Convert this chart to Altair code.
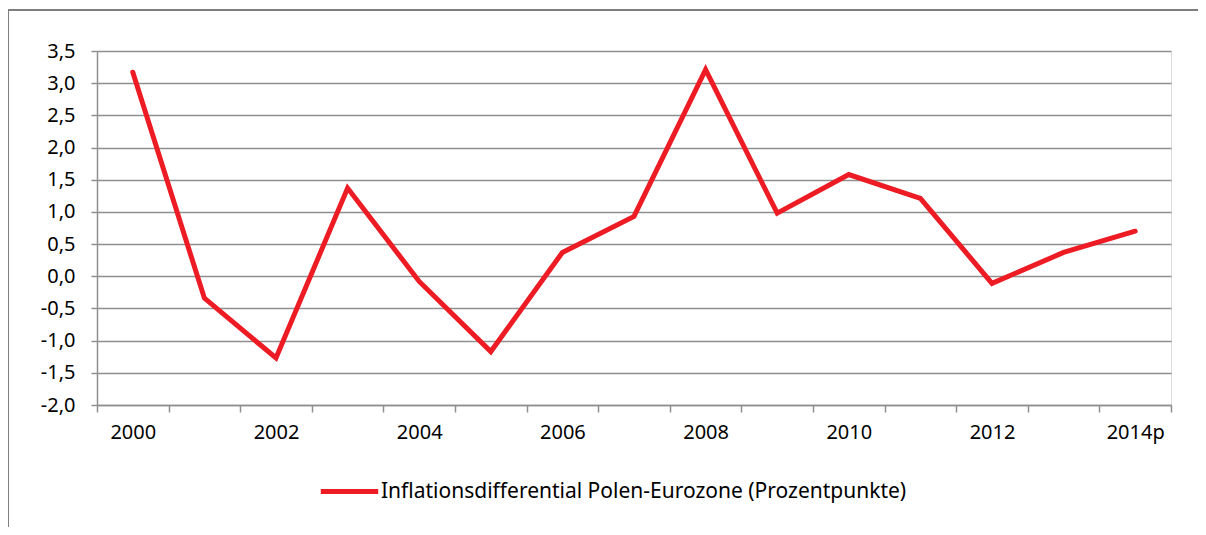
import altair as alt
import pandas as pd

years = ["2000", "2001", "2002", "2003", "2004", "2005", "2006", "2007",
         "2008", "2009", "2010", "2011", "2012", "2013", "2014p"]
values = [3.17, -0.34, -1.27, 1.37, -0.08, -1.17, 0.37, 0.93,
          3.21, 0.98, 1.58, 1.21, -0.11, 0.37, 0.70]
shown_labels = ["2000", "2002", "2004", "2006", "2008", "2010", "2012", "2014p"]
series_name = "Inflationsdifferential Polen-Eurozone (Prozentpunkte)"
y_ticks = [-2.0, -1.5, -1.0, -0.5, 0.0, 0.5, 1.0, 1.5, 2.0, 2.5, 3.0, 3.5]

df = pd.DataFrame({"Jahr": years, "Wert": values, "Serie": series_name})

FONT = "Noto Sans"
GRID = "#8f8f8f"
RED = "#ED1C24"

label_expr = "indexof(" + str(shown_labels) + ", datum.value) >= 0 ? datum.label : ''"
y_label_expr = "replace(replace(format(datum.value, '.1f'), '.', ','), '\u2212', '-')"

line = alt.Chart(df).mark_line(strokeWidth=5, strokeJoin="miter", strokeCap="round").encode(
    x=alt.X("Jahr:N", sort=years,
            scale=alt.Scale(paddingInner=0, paddingOuter=0),
            axis=alt.Axis(title=None, labelAngle=0, labelExpr=label_expr,
                          tickBand="extent", tickSize=7, tickColor=GRID, tickWidth=1.5,
                          domainColor=GRID, domainWidth=1.5, labelPadding=10,
                          labelFontSize=20, labelFont=FONT, labelColor="#000",
                          grid=False)),
    y=alt.Y("Wert:Q", scale=alt.Scale(domain=[-2.0, 3.5], nice=False),
            axis=alt.Axis(title=None, values=y_ticks,
                          labelExpr=y_label_expr,
                          tickSize=6, tickColor=GRID, tickWidth=1.5,
                          domainColor=GRID, domainWidth=1.5,
                          gridColor=GRID, gridWidth=1.5, labelPadding=16,
                          labelFontSize=20, labelFont=FONT, labelColor="#000")),
    color=alt.Color("Serie:N", scale=alt.Scale(domain=[series_name], range=[RED]),
                    legend=alt.Legend(title=None, orient="none", legendX=221, legendY=409,
                                      symbolType="stroke", symbolSize=3300,
                                      symbolStrokeWidth=5, labelFontSize=21,
                                      labelLimit=900,
                                      labelFont=FONT, labelColor="#000", labelOffset=0)),
)

frame_top = alt.Chart(df).mark_rule(color="#7f7f7f", strokeWidth=1).encode(
    x=alt.value(-89), x2=alt.value(1109), y=alt.value(-41))
frame_left = alt.Chart(df).mark_rule(color="#7f7f7f", strokeWidth=1).encode(
    x=alt.value(-89), y=alt.value(-41), y2=alt.value(490))

chart = alt.layer(frame_top, frame_left, line).properties(
    width=1074, height=354,
    autosize=alt.AutoSizeParams(type="none"),
    padding={"left": 89, "top": 43, "right": 27, "bottom": 122},
).configure_view(stroke=None).configure(background="white")

chart.save("out.html", embed_options={"renderer": "svg", "actions": False})
